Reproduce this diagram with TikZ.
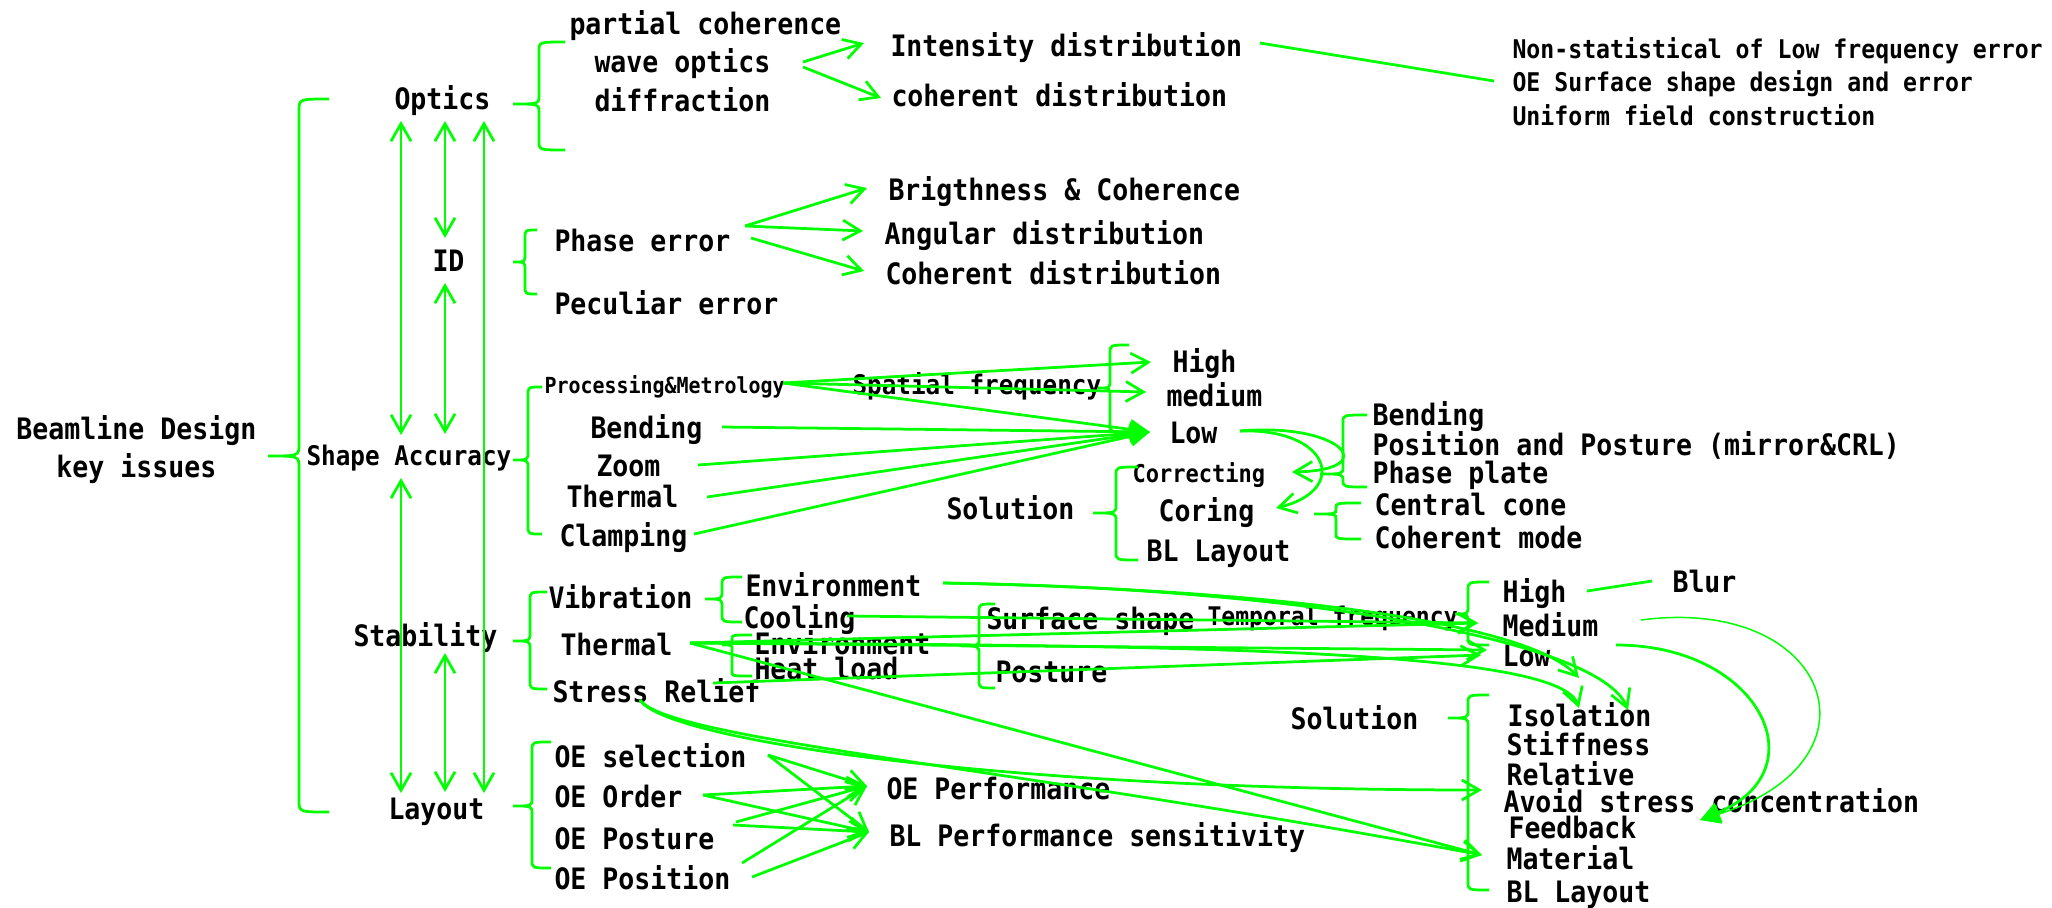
\documentclass[tikz,border=0pt]{standalone}
\usepackage{fontspec}
\usetikzlibrary{arrows.meta}
\newfontfamily\dvm[FakeStretch=0.9]{DejaVu Sans Mono}
\definecolor{lgreen}{RGB}{0,255,0}
\newcommand\fM{\dvm\bfseries\fontsize{11.8pt}{14pt}\selectfont}
\newcommand\fS{\dvm\bfseries\fontsize{10.8pt}{13pt}\selectfont}
\newcommand\fN{\dvm\bfseries\fontsize{10.3pt}{12pt}\selectfont}
\newcommand\fP{\dvm\bfseries\fontsize{8.86pt}{10pt}\selectfont}
\newcommand\fC{\dvm\bfseries\fontsize{9.8pt}{11pt}\selectfont}
\newcommand\fT{\dvm\bfseries\fontsize{10.26pt}{12pt}\selectfont}
% curly brace: tip x, tip y, spine x, end x, top y, bottom y, corner radius
\newcommand\grpbrace[7]{%
  \draw[lk] (#4,#5) .. controls (#3,#5) .. (#3,#5+#7) -- (#3,#2-#7)
    .. controls (#3,#2) .. (#1,#2) .. controls (#3,#2) .. (#3,#2+#7)
    -- (#3,#6-#7) .. controls (#3,#6) .. (#4,#6);}
\tikzset{
  lk/.style={draw=lgreen, line width=1.1pt},
  thin lk/.style={draw=lgreen, line width=0.6pt},
  bar/.style={lk, -{Straight Barb[length=7pt,width=8pt]}},
  dbar/.style={lk, {Straight Barb[length=7pt,width=8pt]}-{Straight Barb[length=7pt,width=8pt]}},
  tri/.style={lk, -{Triangle[length=8pt,width=8pt]}},
  tm/.style={anchor=base west, inner sep=0pt, font=\fM, yshift=-3.9pt},
  ts/.style={anchor=base west, inner sep=0pt, font=\fS, yshift=-3.56pt},
  tn/.style={anchor=base west, inner sep=0pt, font=\fN, yshift=-3.4pt},
  tp/.style={anchor=base west, inner sep=0pt, font=\fP, yshift=-2.92pt},
  tc/.style={anchor=base west, inner sep=0pt, font=\fC, yshift=-3.23pt},
  tt/.style={anchor=base west, inner sep=0pt, font=\fT, yshift=-3.39pt},
}
\begin{document}
\begin{tikzpicture}[x=0.4pt, y=-0.4pt]
\useasboundingbox (0,0) rectangle (2052,907);
\fill[white] (0,0) rectangle (2052,907);

% ---------- labels ----------
\node[tm] (bld) at (16,430) {Beamline Design};
\node[tm] (key) at (56,468) {key issues};
\node[tm] (optics) at (394,100) {Optics};
\node[tm] (id) at (432,262) {ID};
\node[ts] (shape) at (306,457) {Shape Accuracy};
\node[tm] (stab) at (353,637) {Stability};
\node[tm] (layout) at (388,810) {Layout};

\node[tm] (partial) at (569,25) {partial coherence};
\node[tm] (wave) at (594,63) {wave optics};
\node[tm] (diff) at (594,102) {diffraction};
\node[tm] (intens) at (890,47) {Intensity distribution};
\node[tm] (cohA) at (891,97) {coherent distribution};
\node[tn] (nsA) at (1512,50) {Non-statistical of Low frequency error};
\node[tn] (nsB) at (1512,83) {OE Surface shape design and error};
\node[tn] (nsC) at (1512,117) {Uniform field construction};

\node[tm] (phase) at (554,242) {Phase error};
\node[tm] (pecul) at (554,305) {Peculiar error};
\node[tm] (bright) at (888,191) {Brigthness \& Coherence};
\node[tm] (angular) at (884,235) {Angular distribution};
\node[tm] (cohB) at (885,275) {Coherent distribution};

\node[tp] (proc) at (544,386) {Processing\&Metrology};
\node[tm] (bendA) at (590,429) {Bending};
\node[tm] (zoomn) at (596,467) {Zoom};
\node[tm] (thermA) at (566,498) {Thermal};
\node[tm] (clamp) at (559,537) {Clamping};
\node[ts] (spatial) at (852,386) {Spatial frequency};
\node[tm] (highA) at (1172,363) {High};
\node[tm] (medA) at (1166,397) {medium};
\node[tm] (lowA) at (1169,434) {Low};
\node[tc] (correct) at (1132,474) {Correcting};
\node[tm] (coring) at (1158,512) {Coring};
\node[tm] (bllayA) at (1146,552) {BL Layout};
\node[tm] (solA) at (946,510) {Solution};
\node[tm] (bendB) at (1372,416) {Bending};
\node[tm] (pospost) at (1372,446) {Position and Posture (mirror\&CRL)};
\node[tm] (phplate) at (1372,474) {Phase plate};
\node[tm] (cone) at (1374,506) {Central cone};
\node[tm] (cmode) at (1374,539) {Coherent mode};

\node[tm] (vib) at (548,599) {Vibration};
\node[tm] (thermB) at (560,646) {Thermal};
\node[tm] (stress) at (552,693) {Stress Relief};
\node[tm] (envA) at (745,587) {Environment};
\node[tm] (cool) at (743,619) {Cooling};
\node[tm] (envB) at (754,645) {Environment};
\node[tm] (heat) at (754,670) {Heat load};
\node[tm] (surf) at (986,620) {Surface shape};
\node[tm] (post) at (995,673) {Posture};
\node[tt] (temporal) at (1207,617) {Temporal frequency};
\node[tm] (highB) at (1502,593) {High};
\node[tm] (medB) at (1502,627) {Medium};
\node[tm] (lowB) at (1502,657) {Low};
\node[tm] (blur) at (1672,583) {Blur};
\node[tm] (solB) at (1290,720) {Solution};
\node[tm] (iso) at (1507,717) {Isolation};
\node[tm] (stiff) at (1506,746) {Stiffness};
\node[tm] (rel) at (1506,776) {Relative};
\node[tm] (avoid) at (1503,803) {Avoid stress concentration};
\node[tm] (feed) at (1508,829) {Feedback};
\node[tm] (mat) at (1506,860) {Material};
\node[tm] (bllayB) at (1506,893) {BL Layout};

\node[tm] (oesel) at (554,758) {OE selection};
\node[tm] (oeord) at (554,798) {OE Order};
\node[tm] (oepost) at (554,840) {OE Posture};
\node[tm] (oepos) at (554,880) {OE Position};
\node[tm] (oeperf) at (886,790) {OE Performance};
\node[tm] (blperf) at (889,837) {BL Performance sensitivity};

% ---------- braces ----------
\grpbrace{268}{456}{299}{329}{99}{812}{12}
\grpbrace{513}{104}{539}{565}{42}{150}{9}
\grpbrace{513}{262}{525}{537}{230}{294}{8}
\grpbrace{513}{460}{528}{542}{387}{534}{8}
\grpbrace{513}{641}{530}{547}{592}{689}{8}
\grpbrace{513}{806}{532}{551}{742}{868}{8}
\grpbrace{1098}{388}{1110}{1129}{345}{432}{8}
\grpbrace{1093}{513}{1116}{1138}{467}{560}{8}
\grpbrace{1320}{474}{1343}{1367}{415}{487}{7}
\grpbrace{1314}{514}{1336}{1361}{503}{539}{5}
\grpbrace{705}{599}{722}{742}{577}{622}{8}
\grpbrace{722}{645}{732}{752}{635}{676}{4}
\grpbrace{961}{646}{979}{995}{604}{688}{8}
\grpbrace{1455}{614}{1468}{1489}{582}{645}{8}
\grpbrace{1448}{718}{1468}{1489}{695}{890}{8}

% ---------- links between the main topics ----------
\coordinate (v1a) at (401,121); \coordinate (v1b) at (401,435);
\coordinate (v2a) at (445,121); \coordinate (v2b) at (445,238);
\coordinate (v3a) at (445,283); \coordinate (v3b) at (445,434);
\coordinate (v4a) at (484,121); \coordinate (v4b) at (484,793);
\coordinate (v5a) at (401,478); \coordinate (v5b) at (401,793);
\coordinate (v6a) at (445,653); \coordinate (v6b) at (445,792);
\draw[dbar] (v1a) -- (v1b);
\draw[dbar] (v2a) -- (v2b);
\draw[dbar] (v3a) -- (v3b);
\draw[dbar] (v4a) -- (v4b);
\draw[dbar] (v5a) -- (v5b);
\draw[dbar] (v6a) -- (v6b);

% ---------- optics ----------
\coordinate (wA) at (803,62); \coordinate (wB) at (803,67);
\coordinate (tInt) at (864,43); \coordinate (tCoh) at (881,98);
\draw[bar] (wA) -- (tInt);
\draw[bar] (wB) -- (tCoh);
\coordinate (iE) at (1260,43); \coordinate (nsW) at (1494,81);
\draw[lk] (iE) -- (nsW);

% ---------- ID ----------
\coordinate (pA) at (745,226); \coordinate (pB) at (751,238);
\coordinate (tBr) at (867,188); \coordinate (tAn) at (863,231); \coordinate (tCo) at (864,271);
\draw[bar] (pA) -- (tBr);
\draw[bar] (pA) -- (tAn);
\draw[bar] (pB) -- (tCo);

% ---------- shape accuracy ----------
\coordinate (pm) at (783,383);
\coordinate (tHi) at (1151,362); \coordinate (tMe) at (1146,392); \coordinate (tLo) at (1150,432);
\coordinate (bE) at (722,427); \coordinate (zE) at (698,465);
\coordinate (thE) at (707,497); \coordinate (clE) at (694,534);
\draw[bar] (pm) -- (tHi);
\draw[bar] (pm) -- (tMe);
\draw[tri] (pm) -- (tLo);
\draw[tri] (bE) -- (tLo);
\draw[tri] (zE) -- (tLo);
\draw[tri] (thE) -- (tLo);
\draw[tri] (clE) -- (tLo);
\coordinate (loE) at (1240,431);
\coordinate (tCor) at (1292,472); \coordinate (tCrg) at (1276,508);
\draw[bar] (loE) .. controls (1340,422) and (1385,470) .. (tCor);
\draw[bar] (loE) .. controls (1330,428) and (1350,490) .. (tCrg);

% ---------- stability ----------
\coordinate (e1) at (943,583); \coordinate (c1) at (847,616);
\coordinate (t1) at (690,643); \coordinate (h1) at (713,683);
\coordinate (s1) at (640,700);
\coordinate (tMB) at (1478,623); \coordinate (tLB) at (1487,650); \coordinate (tLB2) at (1481,655);
\coordinate (tIa) at (1579,678); \coordinate (tIb) at (1579,708); \coordinate (tIc) at (1628,710);
\coordinate (tRel) at (1482,790); \coordinate (tMat) at (1482,855);
\draw[bar] (e1) .. controls (1300,590) and (1530,625) .. (tIa);
\draw[bar] (e1) .. controls (1300,588) and (1600,640) .. (tIc);
\draw[bar] (c1) -- (tMB);
\draw[bar] (t1) -- (tMB);
\draw[bar] (t1) -- (tLB);
\draw[bar] (t1) .. controls (1200,645) and (1560,650) .. (tIb);
\draw[bar] (t1) -- (tMat);
\draw[bar] (h1) -- (tLB2);
\draw[bar] (s1) .. controls (665,740) and (1000,790) .. (tRel);
\draw[bar] (s1) .. controls (670,740) and (1000,765) .. (tMat);
\coordinate (hiE) at (1587,591); \coordinate (blW) at (1652,581);
\draw[lk] (hiE) -- (blW);
\coordinate (mA) at (1641,620); \coordinate (mB) at (1616,645);
\coordinate (tFb) at (1700,820);
\draw[thin lk, -{Triangle[length=8pt,width=8pt]}] (mA) .. controls (1830,595) and (1890,760) .. (tFb);
\draw[tri] (mB) .. controls (1760,645) and (1820,770) .. (tFb);

% ---------- layout ----------
\coordinate (tOP) at (867,786); \coordinate (tBP) at (869,832);
\coordinate (osE) at (768,755); \coordinate (ooE) at (703,795);
\coordinate (opA) at (736,822); \coordinate (opB) at (733,825);
\coordinate (oqA) at (742,863); \coordinate (oqB) at (752,877);
\draw[bar] (osE) -- (tOP);
\draw[bar] (osE) -- (tBP);
\draw[bar] (ooE) -- (tOP);
\draw[bar] (ooE) -- (tBP);
\draw[bar] (opA) -- (tOP);
\draw[bar] (opB) -- (tBP);
\draw[bar] (oqA) -- (tOP);
\draw[bar] (oqB) -- (tBP);
\end{tikzpicture}
\end{document}
